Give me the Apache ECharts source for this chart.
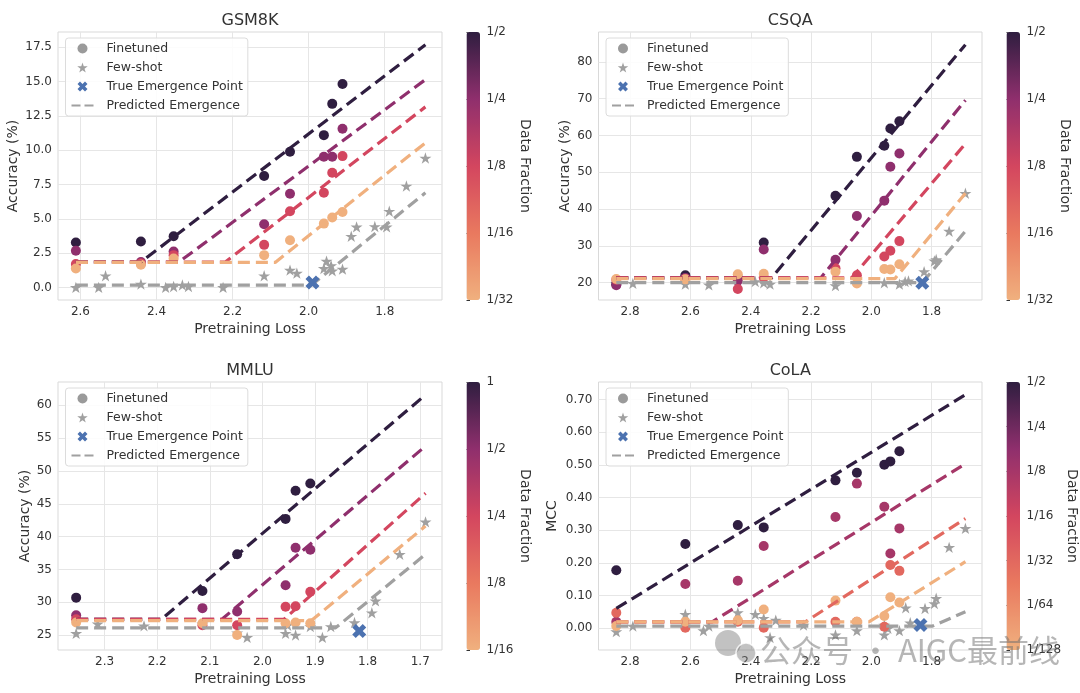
<!DOCTYPE html>
<html><head><meta charset="utf-8">
<script src="https://cdn.jsdelivr.net/npm/echarts@6/dist/echarts.min.js"></script>
<style>html,body{margin:0;padding:0;background:#fff}#c{width:1080px;height:693px}</style>
</head><body><div id="c"></div>
<script>
// ---------------- GSM8K ----------------
const gsmLoss = [2.612, 2.441, 2.355, 2.117, 2.049, 1.960, 1.938, 1.911];
const gsmFractions = [1/2, 1/4, 1/8, 1/32];
const gsmFtHalf = [3.27, 3.34, 3.73, 8.12, 9.89, 11.10, 13.38, 14.83];
const gsmFtQuarter = [2.67, 1.85, 2.62, 4.60, 6.83, 9.52, 9.52, 11.56];
const gsmFtEighth = [1.70, 1.75, 2.35, 3.10, 5.55, 6.90, 8.36, 9.57];
const gsmFtThirtySecond = [1.38, 1.65, 2.10, 2.35, 3.44, 4.65, 5.09, 5.50];
const gsmShotLoss = [2.612, 2.552, 2.534, 2.441, 2.376, 2.355, 2.332, 2.316, 2.225, 2.117, 2.049, 2.031, 1.960, 1.953, 1.941, 1.938, 1.911, 1.888, 1.874, 1.826, 1.795, 1.788, 1.743, 1.693];
const gsmShotAcc = [0.0, 0.0, 0.85, 0.24, 0.0, 0.07, 0.17, 0.07, 0.0, 0.85, 1.26, 1.04, 1.38, 1.91, 1.58, 1.21, 1.33, 3.73, 4.41, 4.44, 4.41, 5.55, 7.39, 9.43];
const gsmTrue = [1.990, 0.36];
const gsmFitHalf = [[2.612, 1.85], [2.441, 1.85], [1.693, 17.69]];
const gsmFitQuarter = [[2.612, 1.85], [2.341, 1.85], [1.693, 15.15]];
const gsmFitEighth = [[2.612, 1.85], [2.219, 1.85], [1.693, 13.16]];
const gsmFitThirtySecond = [[2.612, 1.82], [2.088, 1.82], [1.693, 10.54]];
const gsmFitShot = [[2.612, 0.17], [1.992, 0.17], [1.693, 6.90]];
const gsmXTicks = [1.8, 2.0, 2.2, 2.4, 2.6];
const gsmYTicks = [0, 2.5, 5, 7.5, 10, 12.5, 15, 17.5];
const gsmXRange = [1.6494, 2.659];
const gsmYRange = [-0.92, 18.62];
const gsmCbarRange = [1/32, 1/2];

// ---------------- CSQA ----------------
const csqaLoss = [2.846, 2.617, 2.443, 2.357, 2.119, 2.048, 1.957, 1.937, 1.907];
const csqaFractions = [1/2, 1/4, 1/8, 1/32];
const csqaFtHalf = [19.6, 22.0, 21.3, 30.9, 43.6, 54.2, 57.2, 61.9, 63.9];
const csqaFtQuarter = [19.3, 21.3, 20.5, 29.0, 26.2, 38.1, 42.3, 51.5, 55.1];
const csqaFtEighth = [20.8, 21.0, 18.3, 21.4, 23.9, 22.0, 27.1, 28.7, 31.3];
const csqaFtThirtySecond = [21.0, 20.9, 22.3, 22.4, 23.0, 19.8, 23.7, 23.6, 25.0];
const csqaShotLoss = [2.846, 2.791, 2.617, 2.539, 2.443, 2.385, 2.357, 2.336, 2.119, 1.957, 1.907, 1.888, 1.877, 1.825, 1.791, 1.785, 1.742, 1.688];
const csqaShotAcc = [19.8, 19.8, 19.6, 19.4, 20.0, 20.3, 20.0, 19.6, 19.2, 20.0, 19.6, 20.3, 20.5, 23.0, 25.9, 26.3, 34.0, 44.3];
const csqaTrue = [1.831, 20.0];
const csqaFitHalf = [[2.846, 21.3], [2.331, 21.3], [1.688, 84.7]];
const csqaFitQuarter = [[2.846, 21.3], [2.168, 21.3], [1.688, 69.6]];
const csqaFitEighth = [[2.846, 21.3], [2.065, 21.3], [1.688, 57.8]];
const csqaFitThirtySecond = [[2.846, 21.1], [1.922, 21.1], [1.688, 44.3]];
const csqaFitShot = [[2.846, 20.0], [1.831, 20.0], [1.688, 34.0]];
const csqaXTicks = [1.8, 2.0, 2.2, 2.4, 2.6, 2.8];
const csqaYTicks = [20, 30, 40, 50, 60, 70, 80];
const csqaXRange = [1.633, 2.905];
const csqaYRange = [15.29, 88.14];
const csqaCbarRange = [1/32, 1/2];

// ---------------- MMLU ----------------
const mmluLoss = [2.354, 2.114, 2.048, 1.956, 1.937, 1.909];
const mmluFractions = [1, 1/2, 1/4, 1/16];
const mmluFtFull = [30.7, 31.7, 37.3, 42.7, 47.0, 48.1];
const mmluFtHalf = [28.0, 29.1, 28.6, 32.6, 38.3, 38.0];
const mmluFtQuarter = [27.4, 26.5, 26.5, 29.3, 29.4, 31.6];
const mmluFtSixteenth = [26.9, 26.8, 25.0, 26.8, 26.9, 26.8];
const mmluShotLoss = [2.354, 2.313, 2.225, 2.114, 2.048, 2.029, 1.956, 1.952, 1.937, 1.909, 1.886, 1.870, 1.825, 1.792, 1.785, 1.739, 1.690];
const mmluShotAcc = [25.25, 26.7, 26.4, 26.7, 25.35, 24.64, 25.25, 26.5, 25.0, 26.3, 24.64, 26.3, 26.9, 28.4, 30.2, 37.3, 42.25];
const mmluTrue = [1.816, 25.6];
const mmluFitFull = [[2.354, 27.4], [2.192, 27.4], [1.690, 61.6]];
const mmluFitHalf = [[2.354, 27.4], [2.077, 27.4], [1.690, 53.8]];
const mmluFitQuarter = [[2.354, 27.4], [1.959, 27.4], [1.690, 46.6]];
const mmluFitSixteenth = [[2.354, 27.2], [1.907, 27.2], [1.690, 41.6]];
const mmluFitShot = [[2.354, 26.1], [1.861, 26.1], [1.690, 37.3]];
const mmluXTicks = [1.7, 1.8, 1.9, 2.0, 2.1, 2.2, 2.3];
const mmluYTicks = [25, 30, 35, 40, 45, 50, 55, 60];
const mmluXRange = [1.6587, 2.3885];
const mmluYRange = [22.72, 63.56];
const mmluCbarRange = [1/16, 1];

// ---------------- CoLA ----------------
const colaLoss = [2.846, 2.617, 2.443, 2.357, 2.119, 2.048, 1.957, 1.937, 1.907];
const colaFractions = [1/2, 1/8, 1/32, 1/128];
const colaFtHalf = [0.178, 0.258, 0.316, 0.309, 0.453, 0.476, 0.501, 0.511, 0.542];
const colaFtEighth = [0.020, 0.136, 0.146, 0.252, 0.341, 0.443, 0.372, 0.229, 0.306];
const colaFtThirtySecond = [0.048, 0.002, 0.020, 0.002, 0.020, 0.020, 0.005, 0.194, 0.176];
const colaFtOneTwentyEighth = [0.007, 0.020, 0.025, 0.058, 0.085, 0.020, 0.038, 0.095, 0.079];
const colaShotLoss = [2.846, 2.791, 2.617, 2.557, 2.539, 2.443, 2.385, 2.357, 2.336, 2.317, 2.225, 2.119, 2.048, 1.957, 1.957, 1.945, 1.907, 1.886, 1.871, 1.822, 1.791, 1.785, 1.742, 1.688];
const colaShotMcc = [-0.010, 0.007, 0.043, -0.007, 0.007, 0.048, 0.043, 0.031, -0.028, 0.025, 0.010, -0.020, -0.007, 0.010, -0.020, 0.000, -0.007, 0.063, 0.017, 0.061, 0.076, 0.092, 0.248, 0.306];
const colaTrue = [1.837, 0.010];
const colaFitHalf = [[2.846, 0.061], [1.688, 0.715]];
const colaFitEighth = [[2.846, 0.020], [2.528, 0.020], [1.688, 0.504]];
const colaFitThirtySecond = [[2.846, 0.020], [2.219, 0.020], [1.688, 0.336]];
const colaFitOneTwentyEighth = [[2.846, 0.020], [2.008, 0.020], [1.688, 0.204]];
const colaFitShot = [[2.846, 0.007], [1.797, 0.007], [1.688, 0.051]];
const colaXTicks = [1.8, 2.0, 2.2, 2.4, 2.6, 2.8];
const colaYTicks = [0, 0.1, 0.2, 0.3, 0.4, 0.5, 0.6, 0.7];
const colaXRange = [1.633, 2.905];
const colaYRange = [-0.0662, 0.754];
const colaCbarRange = [1/128, 1/2];

const legendNames = ['Finetuned', 'Few-shot', 'True Emergence Point', 'Predicted Emergence'];
const watermarkText = '公众号 · AIGC最前线';

// ---------------- styling ----------------
const FONT = 'DejaVu Sans';
const TXT = '#333333';
const GRAY = '#a0a0a0';
const BLUE = '#4c72b0';
const STOPS = ['#f0b07e', '#e9795f', '#d3465f', '#8f2f6d', '#2f1e40'];
const STAR = 'path://M50,0L61.23,34.55L97.55,34.55L68.17,55.9L79.39,90.45L50,69.1L20.61,90.45L31.83,55.9L2.45,34.55L38.77,34.55Z';
const XMARK = 'path://M2.5,0L5,2.5L7.5,0L10,2.5L7.5,5L10,7.5L7.5,10L5,7.5L2.5,10L0,7.5L2.5,5L0,2.5Z';
const DASH = [12, 6];

function hexToRgb(h) { return [1, 3, 5].map(i => parseInt(h.substr(i, 2), 16)); }
function cmap(t) {
  t = Math.max(0, Math.min(1, t));
  const s = t * (STOPS.length - 1);
  const i = Math.min(Math.floor(s), STOPS.length - 2);
  const f = s - i;
  const a = hexToRgb(STOPS[i]), b = hexToRgb(STOPS[i + 1]);
  return 'rgb(' + a.map((v, k) => Math.round(v + (b[k] - v) * f)).join(',') + ')';
}

const panels = [
  { name: 'GSM8K', yName: 'Accuracy (%)', loss: gsmLoss, fracs: gsmFractions,
    ft: [gsmFtHalf, gsmFtQuarter, gsmFtEighth, gsmFtThirtySecond],
    shotLoss: gsmShotLoss, shotVal: gsmShotAcc, truePt: gsmTrue,
    fits: [gsmFitHalf, gsmFitQuarter, gsmFitEighth, gsmFitThirtySecond], fitShot: gsmFitShot,
    xTicks: gsmXTicks, yTicks: gsmYTicks, xRange: gsmXRange, yRange: gsmYRange, cbar: gsmCbarRange, yDec: 1,
    box: { left: 58, top: 32, width: 384, height: 268 }, cbarLeft: 466.5, yNameGap: 38, cbarNameGap: 35 },
  { name: 'CSQA', yName: 'Accuracy (%)', loss: csqaLoss, fracs: csqaFractions,
    ft: [csqaFtHalf, csqaFtQuarter, csqaFtEighth, csqaFtThirtySecond],
    shotLoss: csqaShotLoss, shotVal: csqaShotAcc, truePt: csqaTrue,
    fits: [csqaFitHalf, csqaFitQuarter, csqaFitEighth, csqaFitThirtySecond], fitShot: csqaFitShot,
    xTicks: csqaXTicks, yTicks: csqaYTicks, xRange: csqaXRange, yRange: csqaYRange, cbar: csqaCbarRange, yDec: 0,
    box: { left: 598.5, top: 32, width: 383.5, height: 268 }, cbarLeft: 1006.5, yNameGap: 26.5, cbarNameGap: 35 },
  { name: 'MMLU', yName: 'Accuracy (%)', loss: mmluLoss, fracs: mmluFractions,
    ft: [mmluFtFull, mmluFtHalf, mmluFtQuarter, mmluFtSixteenth],
    shotLoss: mmluShotLoss, shotVal: mmluShotAcc, truePt: mmluTrue,
    fits: [mmluFitFull, mmluFitHalf, mmluFitQuarter, mmluFitSixteenth], fitShot: mmluFitShot,
    xTicks: mmluXTicks, yTicks: mmluYTicks, xRange: mmluXRange, yRange: mmluYRange, cbar: mmluCbarRange, yDec: 0,
    box: { left: 58, top: 382, width: 384, height: 268 }, cbarLeft: 466.5, yNameGap: 26, cbarNameGap: 35 },
  { name: 'CoLA', yName: 'MCC', loss: colaLoss, fracs: colaFractions,
    ft: [colaFtHalf, colaFtEighth, colaFtThirtySecond, colaFtOneTwentyEighth],
    shotLoss: colaShotLoss, shotVal: colaShotMcc, truePt: colaTrue,
    fits: [colaFitHalf, colaFitEighth, colaFitThirtySecond, colaFitOneTwentyEighth], fitShot: colaFitShot,
    xTicks: colaXTicks, yTicks: colaYTicks, xRange: colaXRange, yRange: colaYRange, cbar: colaCbarRange, yDec: 2,
    box: { left: 598.5, top: 382, width: 383.5, height: 268 }, cbarLeft: 1006.5, yNameGap: 39.5, cbarNameGap: 43 }
];

const grid = [], xAxis = [], yAxis = [], series = [], visualMap = [], legend = [], graphic = [];
const tickTxt = { fontSize: 12, color: TXT, fontFamily: FONT };

panels.forEach((p, i) => {
  grid.push({ left: p.box.left, top: p.box.top, width: p.box.width, height: p.box.height,
    show: true, borderColor: '#d9d9d9', borderWidth: 1, backgroundColor: '#ffffff' });
  xAxis.push({ gridIndex: i, type: 'value', inverse: true, min: p.xRange[0], max: p.xRange[1],
    axisLine: { show: false }, axisTick: { show: false, customValues: p.xTicks },
    axisLabel: Object.assign({ customValues: p.xTicks, margin: 6, formatter: v => Number(v).toFixed(1) }, tickTxt),
    splitLine: { show: true, lineStyle: { color: '#e6e6e6', width: 1 } },
    name: 'Pretraining Loss', nameLocation: 'middle', nameGap: 22,
    nameTextStyle: { fontSize: 14, color: TXT, fontFamily: FONT } });
  yAxis.push({ gridIndex: i, type: 'value', min: p.yRange[0], max: p.yRange[1],
    axisLine: { show: false }, axisTick: { show: false, customValues: p.yTicks },
    axisLabel: Object.assign({ customValues: p.yTicks, margin: 6, formatter: v => Number(v).toFixed(p.yDec) }, tickTxt),
    splitLine: { show: true, lineStyle: { color: '#e6e6e6', width: 1 } },
    name: p.yName, nameLocation: 'middle', nameGap: p.yNameGap,
    nameTextStyle: { fontSize: 14, color: TXT, fontFamily: FONT } });
  graphic.push({ type: 'text', x: p.box.left + p.box.width / 2, y: p.box.top - 11.5,
    style: { text: p.name, textAlign: 'center', textVerticalAlign: 'middle', fontSize: 16, fill: TXT, fontFamily: FONT } });
});

panels.forEach((p, i) => {
  const ci = 4 + i;
  const lo = Math.log2(p.cbar[0]), hi = Math.log2(p.cbar[1]);
  grid.push({ left: p.cbarLeft, top: p.box.top, width: 13.5, height: p.box.height, show: false });
  xAxis.push({ gridIndex: ci, type: 'value', show: false, min: 0, max: 1 });
  yAxis.push({ gridIndex: ci, type: 'value', position: 'right', min: lo, max: hi, interval: 1,
    axisLine: { show: false }, axisTick: { show: true, length: 3.5, lineStyle: { color: TXT, width: 1 } },
    axisLabel: Object.assign({ margin: 6.5, formatter: v => v === 0 ? '1' : '1/' + Math.round(Math.pow(2, -v)) }, tickTxt),
    splitLine: { show: false },
    name: 'Data Fraction', nameLocation: 'middle', nameRotate: -90, nameGap: p.cbarNameGap,
    nameTextStyle: { fontSize: 14, color: TXT, fontFamily: FONT } });

  p.fits.forEach((f, k) => {
    const t = (Math.log2(p.fracs[k]) - lo) / (hi - lo);
    series.push({ type: 'line', name: p.name + ' fit ' + k, xAxisIndex: i, yAxisIndex: i, data: f,
      symbol: 'none', silent: true, animation: false,
      lineStyle: { color: cmap(t), width: 3.2, type: DASH, cap: 'butt' } });
  });
  series.push({ type: 'line', name: 'Predicted Emergence', xAxisIndex: i, yAxisIndex: i, data: p.fitShot,
    symbol: 'none', silent: true, animation: false, itemStyle: { color: GRAY },
    lineStyle: { color: GRAY, width: 3.2, type: DASH, cap: 'butt' } });
  series.push({ type: 'scatter', name: 'Few-shot', xAxisIndex: i, yAxisIndex: i,
    data: p.shotLoss.map((x, j) => [x, p.shotVal[j]]),
    symbol: STAR, symbolSize: 12, symbolKeepAspect: true, animation: false, itemStyle: { color: GRAY, opacity: 1 } });
  const ftIdx = series.length;
  const ftData = [];
  p.ft.forEach((arr, k) => arr.forEach((v, j) => { if (v != null) ftData.push([p.loss[j], v, Math.log2(p.fracs[k])]); }));
  series.push({ type: 'scatter', name: 'Finetuned', xAxisIndex: i, yAxisIndex: i, data: ftData,
    symbol: 'circle', symbolSize: 10, animation: false, itemStyle: { color: '#9a9a9a', opacity: 1 } });
  series.push({ type: 'scatter', name: 'True Emergence Point', xAxisIndex: i, yAxisIndex: i, data: [p.truePt],
    symbol: XMARK, symbolSize: 14, animation: false, itemStyle: { color: BLUE, opacity: 1 }, z: 5 });

  visualMap.push({ type: 'continuous', seriesIndex: ftIdx, dimension: 2, min: lo, max: hi,
    inRange: { color: STOPS }, left: p.cbarLeft, top: p.box.top, itemWidth: 13.5, itemHeight: p.box.height,
    padding: 0, calculable: false, hoverLink: false, orient: 'vertical', borderWidth: 0 });

  legend.push({ orient: 'vertical', left: p.box.left + 7.5, top: p.box.top + 6, itemWidth: 22, itemHeight: 10,
    itemGap: 6, padding: [4, 5, 4, 5], backgroundColor: 'rgba(255,255,255,0.85)', borderColor: '#dcdcdc',
    borderWidth: 1, borderRadius: 3, selectedMode: false,
    textStyle: { fontSize: 12.5, color: TXT, fontFamily: FONT, padding: [0, 0, 0, 8] },
    data: legendNames.map(n => n === 'Predicted Emergence'
      ? { name: n, itemStyle: { opacity: 0 }, lineStyle: { type: [9, 4] } }
      : { name: n }) });
});

// watermark overlay
graphic.push({ type: 'circle', shape: { cx: 728, cy: 643, r: 13 }, style: { fill: 'rgba(120,120,120,0.45)' }, z: 100 });
graphic.push({ type: 'circle', shape: { cx: 746, cy: 653, r: 10 }, style: { fill: 'rgba(120,120,120,0.45)', stroke: 'rgba(255,255,255,0.8)', lineWidth: 1.5 }, z: 100 });
graphic.push({ type: 'text', x: 760, y: 650, z: 100,
  style: { text: watermarkText, textVerticalAlign: 'middle', fontSize: 31, fill: 'rgba(110,110,110,0.5)', fontFamily: 'Noto Sans CJK SC' } });

const chart = echarts.init(document.getElementById('c'), null, { renderer: 'canvas' });
chart.setOption({ backgroundColor: '#ffffff', animation: false, textStyle: { fontFamily: FONT },
  grid, xAxis, yAxis, series, visualMap, legend, graphic });
</script></body></html>
